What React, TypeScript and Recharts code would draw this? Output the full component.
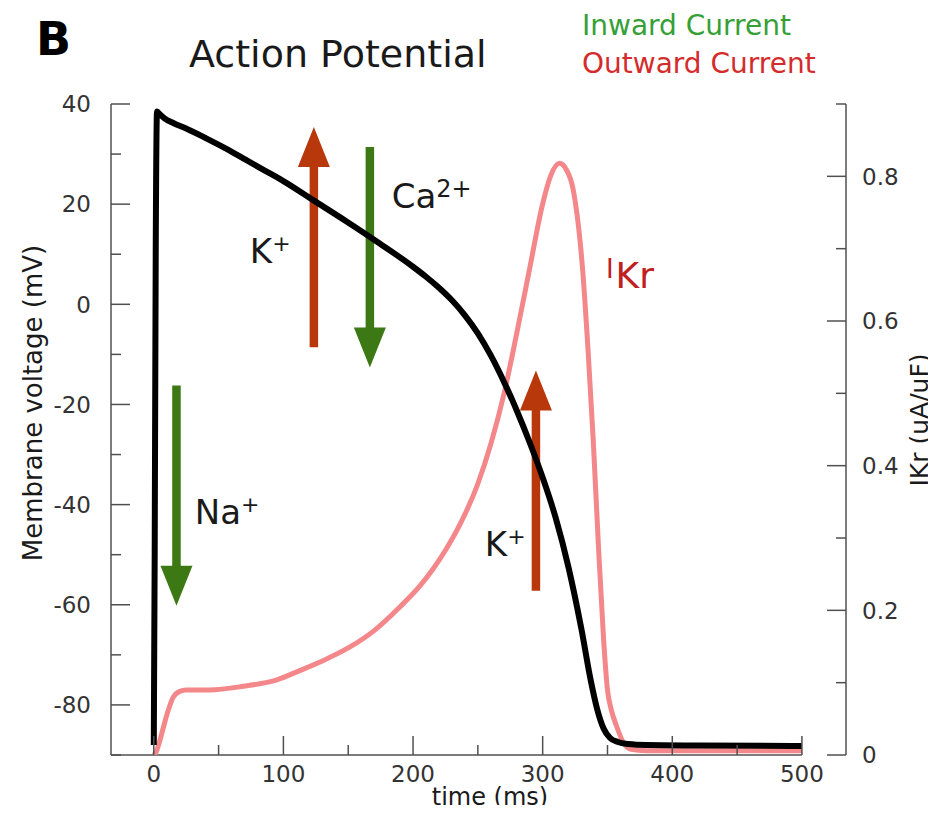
import React from 'react';
import { ComposedChart, Line, XAxis, YAxis, ReferenceLine, ReferenceDot } from 'recharts';

// ---- data ----
const apTime = [0, 0.7, 1.5, 2.5, 4.5, 8, 15, 25, 40, 55, 70, 85, 100, 123, 149, 174, 200, 210, 220, 230, 240, 250, 260, 270, 280, 290, 300, 310, 320, 330, 337, 342, 347, 352, 358, 366, 380, 420, 500];
const apVoltage = [-88, -50, 10, 38.5, 38, 37.2, 36.2, 35.1, 33.2, 31.2, 29, 26.8, 24.6, 20.8, 16.5, 12.2, 7.5, 5.5, 3.3, 0.8, -2.2, -5.8, -10.2, -15.4, -21.2, -27.6, -34.6, -42.6, -52.6, -65, -75, -80.8, -84.7, -86.6, -87.4, -87.8, -88, -88.1, -88.2];

const ikrTime = [0, 2, 5, 10, 15, 20, 25, 43, 69, 95, 113, 130, 151, 170, 190, 205, 215, 225, 236, 250, 260, 270, 280, 290, 300, 306, 313, 318, 323.5, 331, 335, 339, 343, 347, 350, 353, 357, 362, 368, 380, 500];
const ikrCurrent = [0, 0.005, 0.022, 0.055, 0.08, 0.088, 0.09, 0.09, 0.095, 0.104, 0.117, 0.13, 0.149, 0.172, 0.205, 0.233, 0.256, 0.283, 0.318, 0.375, 0.43, 0.498, 0.583, 0.673, 0.762, 0.8, 0.818, 0.81, 0.782, 0.667, 0.56, 0.436, 0.29, 0.16, 0.09, 0.062, 0.04, 0.018, 0.008, 0.006, 0.006];

const xTicks = [0, 50, 100, 150, 200, 250, 300, 350, 400, 450, 500];
const leftTicks = [-90, -80, -70, -60, -50, -40, -30, -20, -10, 0, 10, 20, 30, 40];
const rightTicks = [0, 0.1, 0.2, 0.3, 0.4, 0.5, 0.6, 0.7, 0.8, 0.9];
const rightTickLabels = ['0', '', '0.2', '', '0.4', '', '0.6', '', '0.8', ''];

// arrows: time, tail value, tip value (membrane-voltage axis), kind
const arrowTime = [123.5, 166.7, 17.5, 294.8];
const arrowTail = [-8.6, 31.4, -16.2, -57.2];
const arrowTip = [35.4, -12.6, -60.2, -13.2];
const arrowKind = ['out', 'in', 'in', 'out'];

// ion labels: time, voltage, base text, superscript
const ionTime = [74.1, 183.6, 31.6, 255.4];
const ionVoltage = [8.2, 19.2, -43.8, -50.2];
const ionText = ['K', 'Ca', 'Na', 'K'];
const ionSup = ['+', '2+', '+', '+'];

const apData = apTime.map((t, i) => ({ t, v: apVoltage[i] }));
const ikrData = ikrTime.map((t, i) => ({ t, v: ikrCurrent[i] }));

const FONT = '"DejaVu Sans", "Liberation Sans", sans-serif';
const AXIS = '#505050';
const TICKTEXT = '#333333';
const RED_ARROW = '#b8380c';
const GREEN_ARROW = '#3c7814';
const LEFT_MARGIN = 20;
const RIGHT_MARGIN = 16;
const BOTTOM_MARGIN = 10;

const LeftTick = (props: any) => {
  const { x, y, payload } = props;
  const v = payload.value;
  const major = v % 20 === 0;
  const ax = x + LEFT_MARGIN;
  return (
    <g>
      <line x1={ax} x2={ax + (major ? 19 : 10)} y1={y} y2={y} stroke={AXIS} strokeWidth={1.5} />
      {major && (
        <text x={x} y={y} dy="0.36em" textAnchor="end" fontSize={23} fontFamily={FONT} fill={TICKTEXT}>
          {String(v)}
        </text>
      )}
    </g>
  );
};

const RightTick = (props: any) => {
  const { x, y, index } = props;
  const label = rightTickLabels[index] ?? '';
  const major = label !== '';
  const ax = x - RIGHT_MARGIN;
  return (
    <g>
      <line x1={ax} x2={ax - (major ? 19 : 10)} y1={y} y2={y} stroke={AXIS} strokeWidth={1.5} />
      {major && (
        <text x={x} y={y} dy="0.36em" textAnchor="start" fontSize={23} fontFamily={FONT} fill={TICKTEXT}>
          {label}
        </text>
      )}
    </g>
  );
};

const BottomTick = (props: any) => {
  const { x, y, payload } = props;
  const v = payload.value;
  const major = v % 100 === 0;
  const ay = y - BOTTOM_MARGIN;
  return (
    <g>
      <line x1={x} x2={x} y1={ay} y2={ay - (major ? 19 : 10)} stroke={AXIS} strokeWidth={1.5} />
      {major && (
        <text x={x} y={y} dy="0.73em" textAnchor="middle" fontSize={23} fontFamily={FONT} fill={TICKTEXT}>
          {String(v)}
        </text>
      )}
    </g>
  );
};

const makeArrow = (color: string) => (props: any) => {
  const { x1, y1, x2, y2 } = props;
  const dir = y2 < y1 ? -1 : 1; // direction of tip
  const headLen = 40;
  const half = 16;
  const baseY = y2 - dir * headLen;
  return (
    <g>
      <line x1={x1} y1={y1} x2={x2} y2={baseY + dir * 2} stroke={color} strokeWidth={8.5} />
      <polygon points={`${x2 - half},${baseY} ${x2 + half},${baseY} ${x2},${y2}`} fill={color} />
    </g>
  );
};

const makeIonLabel = (base: string, sup: string) => (props: any) => {
  const { cx, cy } = props;
  const isCa = sup === '2+';
  return (
    <text x={cx} y={cy} fontSize={34} fontFamily={FONT} fill="#1a1a1a">
      {base}
      <tspan fontSize={isCa ? 24 : 22} dy={isCa ? -11 : -12}>{sup}</tspan>
    </text>
  );
};

const IkrLabel = (props: any) => {
  const { cx, cy } = props;
  return (
    <text x={cx} y={cy} fontFamily={FONT} fill="#c0201e">
      <tspan fontSize={26}>I</tspan>
      <tspan fontSize={36} dx={2} dy={10}>Kr</tspan>
    </text>
  );
};

export default function App() {
  return (
    <div style={{ margin: -8, position: 'relative', width: 936, height: 813, background: '#ffffff', overflow: 'hidden' }}>
      <ComposedChart
        width={936}
        height={813}
        margin={{ top: 104, left: 51, right: 30, bottom: 18 }}
        style={{ position: 'absolute', left: 0, top: 0 }}
      >
        <XAxis
          dataKey="t"
          type="number"
          domain={[-33, 534]}
          ticks={xTicks}
          interval={0}
          allowDataOverflow
          height={40}
          axisLine={false}
          tickLine={false}
          tickSize={0}
          tickMargin={BOTTOM_MARGIN}
          tick={<BottomTick />}
        />
        <YAxis
          yAxisId="left"
          orientation="left"
          type="number"
          domain={[-90, 40]}
          ticks={leftTicks}
          interval={0}
          allowDataOverflow
          width={60}
          axisLine={{ stroke: AXIS, strokeWidth: 1.5 }}
          tickLine={false}
          tickSize={0}
          tickMargin={LEFT_MARGIN}
          tick={<LeftTick />}
        />
        <YAxis
          yAxisId="right"
          orientation="right"
          type="number"
          domain={[0, 0.9]}
          ticks={rightTicks}
          interval={0}
          allowDataOverflow
          width={60}
          axisLine={{ stroke: AXIS, strokeWidth: 1.5 }}
          tickLine={false}
          tickSize={0}
          tickMargin={RIGHT_MARGIN}
          tick={<RightTick />}
        />
        <ReferenceLine
          yAxisId="left"
          segment={[{ x: -33, y: -90 }, { x: 500, y: -90 }]}
          stroke={AXIS}
          strokeWidth={1.5}
          ifOverflow="visible"
        />
        {arrowTime.map((t, i) => (
          <ReferenceLine
            key={'arrow' + i}
            yAxisId="left"
            segment={[{ x: t, y: arrowTail[i] }, { x: t, y: arrowTip[i] }]}
            ifOverflow="visible"
            shape={makeArrow(arrowKind[i] === 'out' ? RED_ARROW : GREEN_ARROW)}
          />
        ))}
        <Line
          data={ikrData}
          yAxisId="right"
          dataKey="v"
          type="monotone"
          stroke="#f3878a"
          strokeWidth={5}
          dot={false}
          activeDot={false}
          isAnimationActive={false}
        />
        <Line
          data={apData}
          yAxisId="left"
          dataKey="v"
          type="monotone"
          stroke="#000000"
          strokeWidth={6}
          strokeLinejoin="round"
          dot={false}
          activeDot={false}
          isAnimationActive={false}
        />
        {ionTime.map((t, i) => (
          <ReferenceDot
            key={'ion' + i}
            yAxisId="left"
            x={t}
            y={ionVoltage[i]}
            r={0}
            ifOverflow="visible"
            shape={makeIonLabel(ionText[i], ionSup[i])}
          />
        ))}
        <ReferenceDot yAxisId="right" x={348.8} y={0.66} r={0} ifOverflow="visible" shape={IkrLabel} />
      </ComposedChart>
      <svg width={936} height={813} style={{ position: 'absolute', left: 0, top: 0, pointerEvents: 'none' }}>
        <text x={36} y={55} fontSize={46} fontWeight="bold" fontFamily={FONT} fill="#000">B</text>
        <text x={189} y={67} fontSize={38} fontFamily={FONT} fill="#1a1a1a">Action Potential</text>
        <text x={582} y={35} fontSize={28} fontFamily={FONT} fill="#35a035">Inward Current</text>
        <text x={582} y={73} fontSize={28} fontFamily={FONT} fill="#d42c2c">Outward Current</text>
        <text x={42} y={403} transform="rotate(-90 42 403)" textAnchor="middle" fontSize={26} fontFamily={FONT} fill="#1a1a1a">
          Membrane voltage (mV)
        </text>
        <text x={928} y={420} transform="rotate(-90 928 420)" textAnchor="middle" fontSize={25} fontFamily={FONT} fill="#1a1a1a">
          IKr (uA/uF)
        </text>
        <text x={490} y={805} textAnchor="middle" fontSize={24} fontFamily={FONT} fill="#1a1a1a">time (ms)</text>
      </svg>
    </div>
  );
}
